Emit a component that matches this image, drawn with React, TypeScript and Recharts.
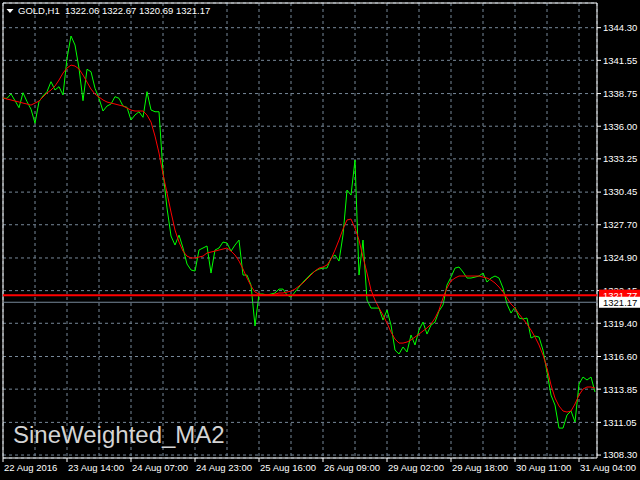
import React from "react";
import {
  LineChart,
  Line,
  XAxis,
  YAxis,
  CartesianGrid,
  ReferenceLine,
} from "recharts";

// H1 closes, GOLD, 22 Aug 2016 -> 31 Aug 2016 (one value per bar)
const closes = [
  1338.35, 1338.35, 1338.72, 1338.15, 1337.56, 1338.82, 1338.07, 1337.43, 1336.25, 1338.07,
  1338.55, 1338.91, 1339.75, 1339.05, 1339.33, 1338.63, 1341.72, 1343.6, 1342.84, 1340.88,
  1338.15, 1340.8, 1340.59, 1339.2, 1338.35, 1337.28, 1337.7, 1337.87, 1338.49, 1338.35,
  1337.7, 1337.59, 1336.52, 1336.95, 1337.22, 1336.75, 1338.91, 1337.37, 1337.22, 1337.22,
  1332.14, 1329.11, 1326.75, 1325.99, 1326.83, 1325.74, 1324.39, 1323.89, 1323.8, 1325.57,
  1325.74, 1325.91, 1323.63, 1325.57, 1325.74, 1326.24, 1326.16, 1325.48, 1325.99, 1326.41,
  1323.46, 1323.46, 1322.62, 1319.17, 1321.86, 1321.86, 1321.78, 1321.86, 1321.95, 1322.28,
  1322.28, 1321.78, 1321.61, 1322.03, 1322.45, 1322.87, 1323.21, 1323.55, 1323.8, 1323.97,
  1324.05, 1324.05, 1324.9, 1325.15, 1324.64, 1326.83, 1330.62, 1330.2, 1333.15, 1323.46,
  1326.41, 1321.36, 1320.68, 1320.68, 1320.68, 1319.67, 1320.51, 1319.25, 1317.14, 1316.81,
  1317.4, 1316.98, 1318.41, 1317.57, 1318.83, 1319.5, 1318.49, 1319.25, 1319.5, 1320.43,
  1320.94, 1322.62, 1323.29, 1324.05, 1324.14, 1323.72, 1323.21, 1323.21, 1323.29, 1323.38,
  1323.63, 1322.87, 1323.21, 1323.38, 1323.21, 1322.37, 1321.02, 1320.26, 1320.77, 1319.84,
  1319.76, 1319.84, 1318.16, 1318.32, 1318.24, 1317.14, 1315.29, 1313.35, 1312.51, 1310.57,
  1310.57, 1311.67, 1312.01, 1311.08, 1314.28, 1314.87, 1314.62, 1314.87, 1313.61,
];

// SineWeighted_MA2 values
const sineMa = [
  1338.38, 1338.29, 1338.21, 1338.12, 1338.04, 1337.95, 1337.87, 1337.78, 1337.95, 1338.12,
  1338.46, 1338.8, 1339.05, 1339.39, 1339.89, 1340.48, 1340.9, 1341.15, 1341.07, 1340.82,
  1340.31, 1339.72, 1339.13, 1338.71, 1338.46, 1338.21, 1338.04, 1337.95, 1337.87, 1337.78,
  1337.7, 1337.53, 1337.36, 1337.28, 1337.28, 1337.28, 1336.94, 1336.35, 1335.17, 1333.74,
  1331.97, 1330.37, 1328.77, 1327.25, 1326.24, 1325.48, 1325.06, 1324.9, 1324.9, 1324.98,
  1325.06, 1325.32, 1325.4, 1325.48, 1325.57, 1325.65, 1325.74, 1325.48, 1325.15, 1324.64,
  1323.97, 1323.21, 1322.54, 1322.03, 1321.86, 1321.78, 1321.78, 1321.78, 1321.86, 1321.95,
  1321.95, 1322.03, 1322.11, 1322.28, 1322.54, 1322.79, 1323.13, 1323.46, 1323.8, 1324.05,
  1324.14, 1324.31, 1324.81, 1325.57, 1326.41, 1327.34, 1328.1, 1328.18, 1327.42, 1326.41,
  1324.98, 1323.63, 1322.2, 1321.36, 1320.68, 1320.09, 1319.42, 1318.66, 1318.07, 1317.73,
  1317.73, 1317.82, 1317.99, 1318.24, 1318.49, 1318.75, 1319.0, 1319.33, 1319.84, 1320.51,
  1321.53, 1322.37, 1322.96, 1323.21, 1323.38, 1323.38, 1323.38, 1323.38, 1323.38, 1323.38,
  1323.29, 1323.21, 1323.04, 1322.79, 1322.45, 1322.03, 1321.53, 1321.02, 1320.68, 1320.18,
  1319.76, 1319.33, 1318.83, 1318.24, 1317.57, 1316.72, 1315.63, 1314.2, 1313.1, 1312.43,
  1312.01, 1311.92, 1312.01, 1312.6, 1313.35, 1313.86, 1314.03, 1314.03, 1313.94,
];

const timeLabels = [
  "22 Aug 2016",
  "23 Aug 14:00",
  "24 Aug 07:00",
  "24 Aug 23:00",
  "25 Aug 16:00",
  "26 Aug 09:00",
  "29 Aug 02:00",
  "29 Aug 18:00",
  "30 Aug 11:00",
  "31 Aug 04:00",
];

const priceTicks = [
  1308.3, 1311.05, 1313.85, 1316.6, 1319.4, 1322.15, 1324.9, 1327.7, 1330.45, 1333.25,
  1336.0, 1338.75, 1341.55, 1344.3,
];

const levelLine = 1321.77;
const bidLine = 1321.17;
const header = "GOLD,H1  1322.06 1322.67 1320.69 1321.17";

const FONT = '"Liberation Sans", Arial, sans-serif';
const GRID = "#778899";

const data = closes.map((c, i) => ({ i, close: c, ma: sineMa[i] }));
const gridTicks = timeLabels.flatMap((_, k) => (k === 0 ? [0, 8] : [k * 16, k * 16 + 8])).filter((v) => v <= 144);

const TimeTick = (props: any) => {
  const { x, y, payload } = props;
  if (payload.value % 16 !== 0) return null;
  const label = timeLabels[payload.value / 16];
  return (
    <g>
      <line x1={x} x2={x} y1={y} y2={y + 4} stroke="#fff" />
      <text x={x + 1} y={y + 13} fill="#fff" fontSize={9.5} fontFamily={FONT}>
        {label}
      </text>
    </g>
  );
};

const PriceTag = (props: any) => {
  const { viewBox, text, bg, fg } = props;
  if (!viewBox) return null;
  const x = viewBox.x + viewBox.width + 2;
  const y = viewBox.y;
  return (
    <g>
      <rect x={x} y={y - 5.5} width={43} height={11} fill={bg} />
      <text x={x + 4} y={y + 3.5} fill={fg} fontSize={9.5} fontFamily={FONT}>
        {text}
      </text>
    </g>
  );
};

export default function App() {
  return (
    <div
      style={{
        position: "absolute",
        left: 0,
        top: 0,
        width: 640,
        height: 480,
        background: "#000",
        fontFamily: FONT,
        overflow: "hidden",
      }}
    >
      <LineChart
        width={640}
        height={480}
        data={data}
        margin={{ top: 3, right: 0, bottom: 0, left: 3 }}
      >
        <CartesianGrid stroke={GRID} strokeDasharray="3 3" />
        <XAxis
          dataKey="i"
          type="number"
          domain={[0, 148.5]}
          ticks={gridTicks}
          interval={0}
          height={22}
          tickSize={0}
          tickMargin={0}
          tickLine={false}
          axisLine={{ stroke: "#fff" }}
          tick={<TimeTick />}
          allowDataOverflow
        />
        <YAxis
          orientation="right"
          type="number"
          domain={[1308.05, 1346.38]}
          ticks={priceTicks}
          interval={0}
          width={43}
          tickSize={4}
          tickMargin={2}
          tickLine={{ stroke: "#fff" }}
          axisLine={{ stroke: "#fff" }}
          tick={{ fill: "#fff", fontSize: 9.5, fontFamily: FONT }}
          tickFormatter={(v: number) => v.toFixed(2)}
          allowDataOverflow
        />
        <ReferenceLine x={0} stroke="#fff" />
        <ReferenceLine y={1346.38} stroke="#fff" />
        <Line
          dataKey="close"
          type="linear"
          stroke="#00ff00"
          strokeWidth={1}
          dot={false}
          isAnimationActive={false}
        />
        <Line
          dataKey="ma"
          type="linear"
          stroke="#ff0000"
          strokeWidth={1}
          dot={false}
          isAnimationActive={false}
        />
        <ReferenceLine
          y={levelLine}
          stroke="#ff0000"
          strokeWidth={2}
          zIndex={2000}
          label={<PriceTag text={levelLine.toFixed(2)} bg="#ff0000" fg="#fff" />}
        />
        <ReferenceLine
          y={bidLine}
          stroke={GRID}
          strokeWidth={1}
          zIndex={2001}
          label={<PriceTag text={bidLine.toFixed(2)} bg="#fff" fg="#000" />}
        />
      </LineChart>
      <svg
        width={10}
        height={8}
        style={{ position: "absolute", left: 5, top: 7 }}
      >
        <polygon points="1.5,2 8.5,2 5,6" fill="#fff" />
      </svg>
      <div
        style={{
          position: "absolute",
          left: 18,
          top: 5,
          fontSize: 9.5,
          lineHeight: "11px",
          color: "#fff",
          whiteSpace: "pre",
        }}
      >
        {header}
      </div>
      <div
        style={{
          position: "absolute",
          left: 13,
          top: 423,
          fontSize: 24,
          lineHeight: "24px",
          color: "#d4d4d4",
          whiteSpace: "pre",
        }}
      >
        SineWeighted_MA2
      </div>
    </div>
  );
}
